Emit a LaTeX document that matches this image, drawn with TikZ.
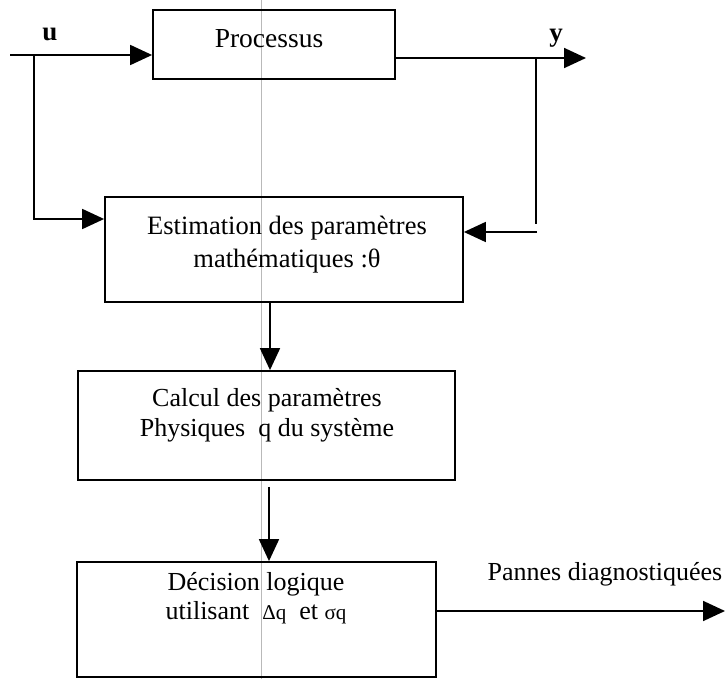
\documentclass[tikz,border=0pt]{standalone}
\usepackage{fontspec}
\setmainfont{Liberation Serif}
\usetikzlibrary{arrows.meta,calc}
\begin{document}
\begin{tikzpicture}[x=1pt,y=-1pt,
  box/.style={draw,line width=1.8pt,rectangle,inner sep=0pt},
  txt/.style={align=center,inner sep=0pt,font=\fontsize{26}{31}\selectfont},
  lbl/.style={inner sep=0pt,font=\fontsize{27}{31}\selectfont\bfseries},
  arr/.style={line width=1.8pt,-{Triangle[length=22pt,width=20pt]}},
  ln/.style={line width=1.8pt}]
\useasboundingbox (0,0) rectangle (726,679);
% scan line
\draw[gray!55,line width=0.9pt] (261,0) -- (261,679);
% boxes
\node[box,minimum width=242pt,minimum height=69pt] (proc) at (274,44.5) {};
\node[box,minimum width=358pt,minimum height=105pt] (est) at (284,249.5) {};
\node[box,minimum width=377pt,minimum height=109pt] (calc) at (266.5,425.5) {};
\node[box,minimum width=359pt,minimum height=115pt] (dec) at (256.5,619.5) {};
% texts
\node[txt,font=\fontsize{27.5}{31}\selectfont] (proct) at (269,39) {Processus};
\node[txt,font=\fontsize{26.5}{33}\selectfont] (estt) at (287,245) {Estimation des paramètres\\mathématiques :θ};
\node[txt,font=\fontsize{26}{30}\selectfont] (calct) at (267,415) {Calcul des paramètres\\Physiques \ q du système};
\node[txt,font=\fontsize{26}{29}\selectfont] (dect) at (256,598) {Décision logique\\utilisant \ {\fontsize{21}{24}\selectfont Δq} \ et {\fontsize{21}{24}\selectfont σq}};
\node[txt] (pannes) at (605,574) {Pannes diagnostiquées};
\node[lbl] (ul) at (50,34) {u};
\node[lbl] (yl) at (556,38) {y};
% connectors
\coordinate (uin) at (10,55);
\coordinate (uj) at (34,55);
\coordinate (yout) at (586,58);
\coordinate (yj) at (536,58);
\coordinate (dout) at (725,611);
\draw[arr] (uin) -- (uin -| proc.west);
\draw[arr] (uj) |- ([yshift=30.5pt]est.west);
\draw[arr] (yj -| proc.east) -- (yout);
\draw[ln] (yj) -- (536,224);
\draw[arr] (537,232) -- ([yshift=17.5pt]est.east);
\draw[arr] ([xshift=-14pt]est.south) -- ([xshift=-14pt]est.south |- calc.north);
\draw[arr,shorten <=6pt] ([xshift=2.5pt]calc.south) -- ([xshift=2.5pt]calc.south |- dec.north);
\draw[arr] (dec.east |- dout) -- (dout);
\end{tikzpicture}
\end{document}
